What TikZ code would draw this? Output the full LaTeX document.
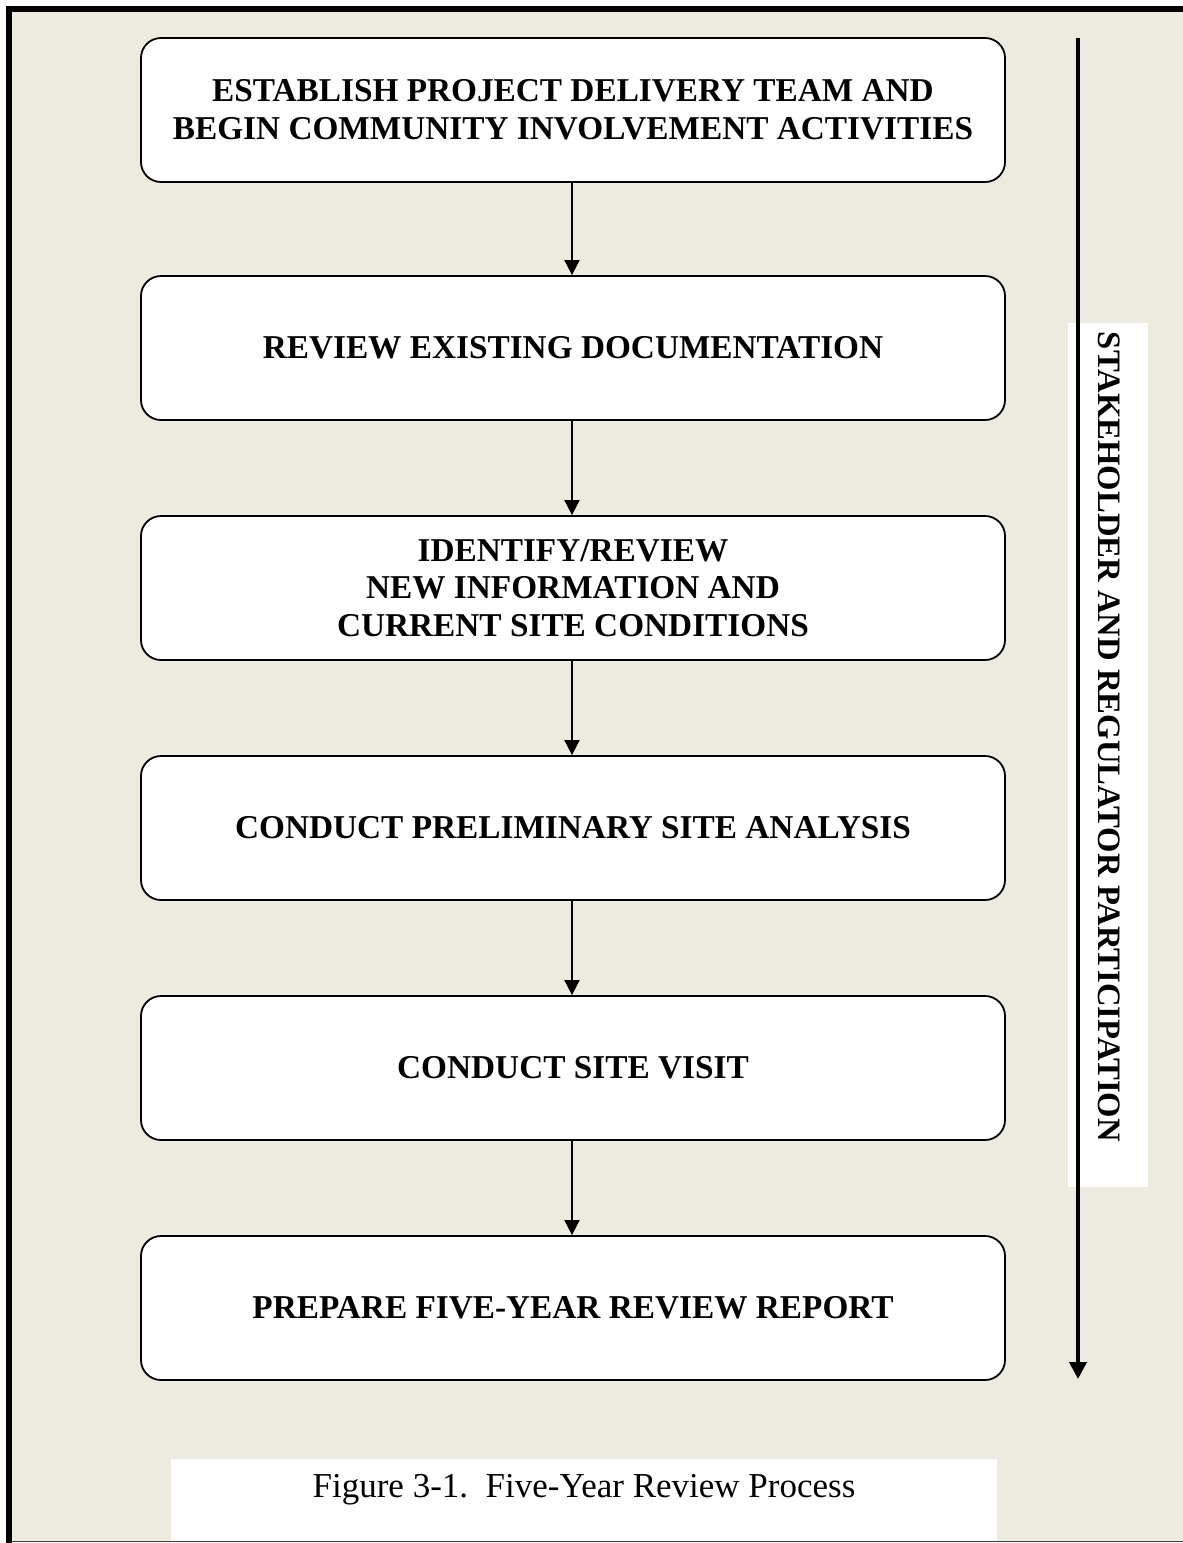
\documentclass[tikz,border=0pt]{standalone}
\usepackage{fontspec}
\setmainfont{Liberation Serif}
\usetikzlibrary{arrows.meta}
\definecolor{bg}{RGB}{237,235,224}
\begin{document}
\begin{tikzpicture}[x=1pt,y=-1pt,
  stepbox/.style={draw, line width=1.8pt, fill=white, rounded corners=20pt,
    minimum width=864pt, minimum height=144pt, align=center,
    font=\fontsize{33.3}{37.8}\selectfont\bfseries, inner sep=0pt},
  flow/.style={line width=1.8pt, -{Triangle[width=15pt,length=15pt]}}]
\useasboundingbox (0,0) rectangle (1183,1543);
\fill[white] (0,0) rectangle (1183,1543);
\fill[bg] (12,12) rectangle (1183,1541);
\draw[black!75, line width=1.2pt] (12,1541.4) -- (1183,1541.4);
\draw[line width=6pt] (1183,9) -- (9,9) -- (9,1543);
% caption box
\fill[white] (171,1459) rectangle (997,1541);
\node[font=\fontsize{35}{40}\selectfont] (cap) at (584,1490) {Figure 3-1.\ \ Five-Year Review Process};
% side label
\fill[white] (1068,323) rectangle (1148,1187);
\coordinate (s0) at (1078,38);
\coordinate (s1) at (1078,1379);
\draw[line width=4pt, -{Triangle[width=17pt,length=17pt]}] (s0) -- (s1);
\node[rotate=-90, font=\fontsize{32.7}{37}\selectfont\bfseries, inner sep=0pt] (side) at (1109,737) {STAKEHOLDER AND REGULATOR PARTICIPATION};
% boxes
\node[stepbox] (b1) at (573,110) {ESTABLISH PROJECT DELIVERY TEAM AND\\BEGIN COMMUNITY INVOLVEMENT ACTIVITIES};
\node[stepbox] (b2) at (573,348) {REVIEW EXISTING DOCUMENTATION};
\node[stepbox] (b3) at (573,588) {IDENTIFY/REVIEW\\NEW INFORMATION AND\\CURRENT SITE CONDITIONS};
\node[stepbox] (b4) at (573,828) {CONDUCT PRELIMINARY SITE ANALYSIS};
\node[stepbox] (b5) at (573,1068) {CONDUCT SITE VISIT};
\node[stepbox] (b6) at (573,1308) {PREPARE FIVE-YEAR REVIEW REPORT};
\foreach \a/\b in {b1/b2,b2/b3,b3/b4,b4/b5,b5/b6}
  \draw[flow] ([xshift=-1pt]\a.south) -- ([xshift=-1pt]\b.north);
\end{tikzpicture}
\end{document}
